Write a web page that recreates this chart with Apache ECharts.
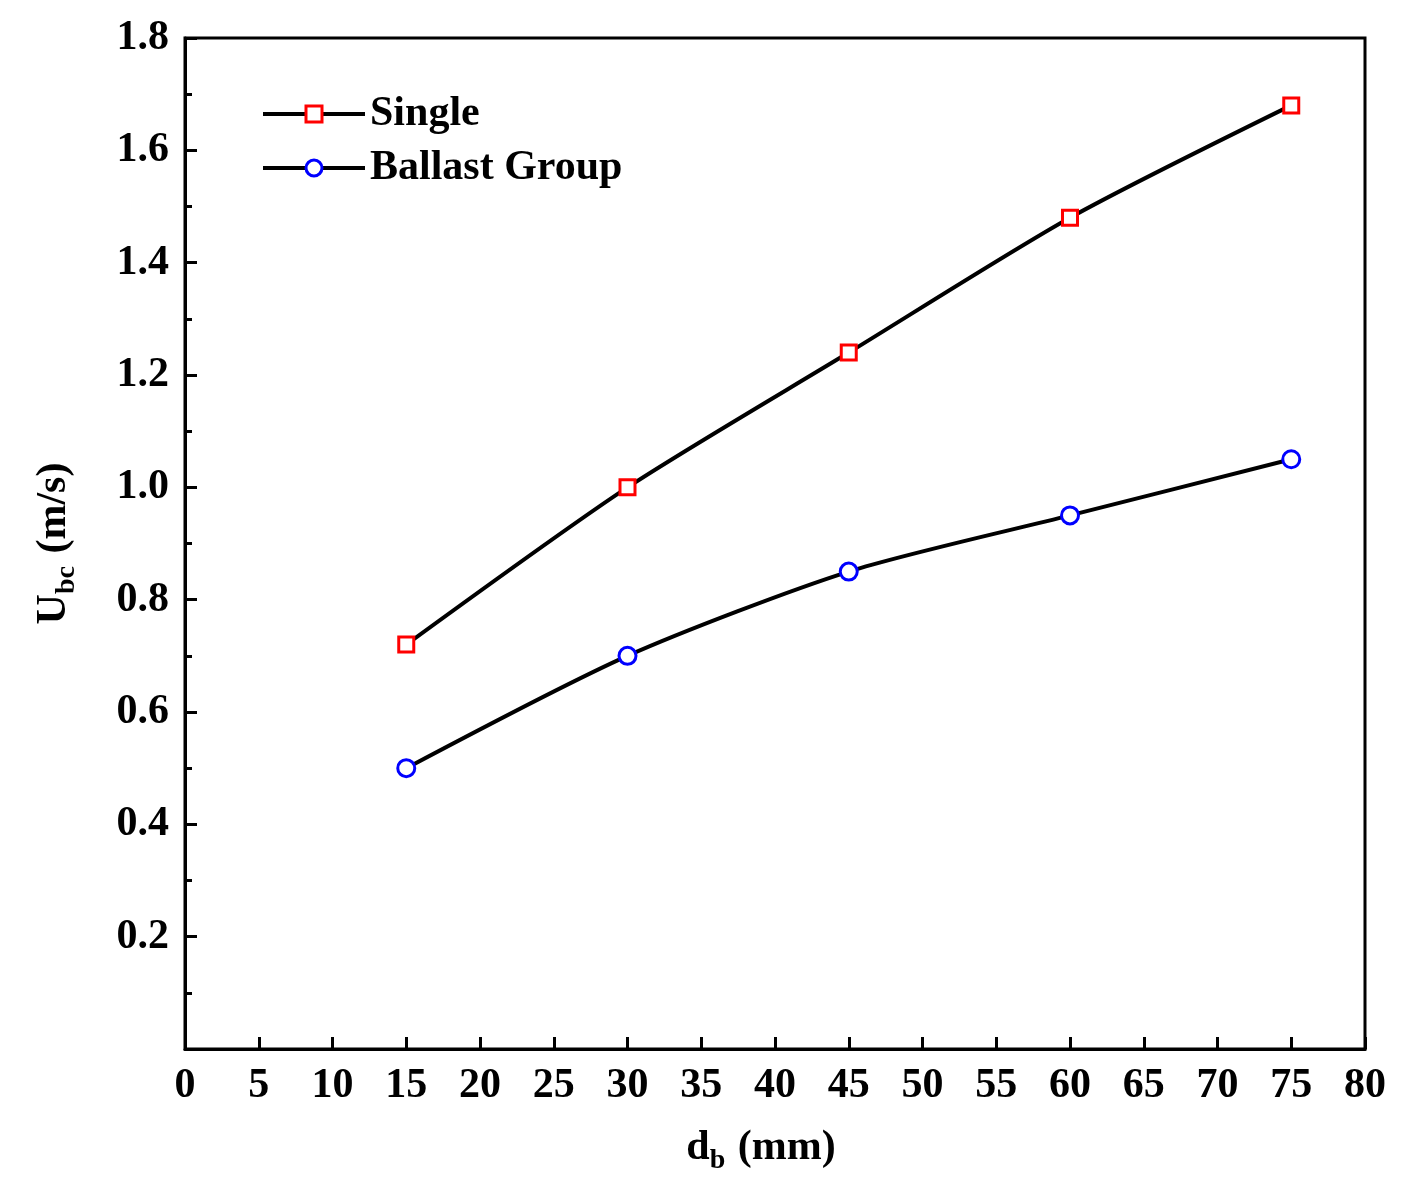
<!DOCTYPE html>
<html><head><meta charset="utf-8">
<script src="https://cdn.jsdelivr.net/npm/echarts@6/dist/echarts.min.js"></script>
<style>html,body{margin:0;padding:0;background:#fff}#c{width:1411px;height:1193px}</style>
</head><body><div id="c"></div>
<script>
const xValues = [15, 30, 45, 60, 75];
const singleValues = [0.72, 1.00, 1.24, 1.48, 1.68];
const ballastValues = [0.50, 0.70, 0.85, 0.95, 1.05];
const seriesNames = ['Single', 'Ballast Group'];

const F = '"Liberation Serif","Times New Roman",serif';
const FS = 42;
const chart = echarts.init(document.getElementById('c'));
const pair = (xs, ys) => xs.map((x, i) => [x, ys[i]]);
const richName = {
  n: {fontFamily: F, fontWeight: 'bold', fontSize: FS, color: '#000'},
  s: {fontFamily: F, fontWeight: 'bold', fontSize: 28, color: '#000', verticalAlign: 'bottom', padding: [0, 2, -6, 0]}
};
chart.setOption({
  animation: false,
  grid: {left: 185, right: 46, top: 38, bottom: 144, show: true, borderColor: '#000', borderWidth: 3, backgroundColor: 'transparent'},
  legend: {
    left: 256, top: 88, orient: 'vertical', itemWidth: 102, itemHeight: 20, itemGap: 12,
    textStyle: {fontFamily: F, fontWeight: 'bold', fontSize: FS, color: '#000'},
    lineStyle: {width: 4},
    itemStyle: {borderWidth: 3},
    data: seriesNames
  },
  xAxis: {
    type: 'value', min: 0, max: 80, interval: 5,
    axisLine: {lineStyle: {color: '#000', width: 3}},
    axisTick: {inside: true, length: 12, lineStyle: {width: 3, color: '#000'}},
    splitLine: {show: false},
    axisLabel: {fontFamily: F, fontWeight: 'bold', fontSize: FS, color: '#000', margin: 16},
    name: '{n|d}{s|b}{n| (mm)}', nameLocation: 'middle', nameGap: 78,
    nameTextStyle: {rich: richName, padding: [0, 28, 0, 0]}
  },
  yAxis: {
    type: 'value', min: 0, max: 1.8, interval: 0.2,
    axisLine: {lineStyle: {color: '#000', width: 3}},
    axisTick: {inside: true, length: 12, lineStyle: {width: 3, color: '#000'}},
    minorTick: {show: true, splitNumber: 2, length: 7, lineStyle: {width: 3, color: '#000'}},
    splitLine: {show: false},
    axisLabel: {fontFamily: F, fontWeight: 'bold', fontSize: FS, color: '#000', margin: 16,
      formatter: v => v === 0 ? '' : v.toFixed(1)},
    name: '{n|U}{s|bc}{n| (m/s)}', nameLocation: 'middle', nameGap: 110, nameRotate: 90,
    nameTextStyle: {rich: richName}
  },
  series: [
    {name: seriesNames[0], type: 'line', data: pair(xValues, singleValues), smooth: 0.25,
     symbol: 'rect', symbolSize: 15, lineStyle: {color: '#000', width: 4},
     itemStyle: {color: '#fff', borderColor: '#ff0000', borderWidth: 3}},
    {name: seriesNames[1], type: 'line', data: pair(xValues, ballastValues), smooth: 0.25,
     symbol: 'circle', symbolSize: 17, lineStyle: {color: '#000', width: 4},
     itemStyle: {color: '#fff', borderColor: '#0000ff', borderWidth: 3}}
  ]
});
</script></body></html>
